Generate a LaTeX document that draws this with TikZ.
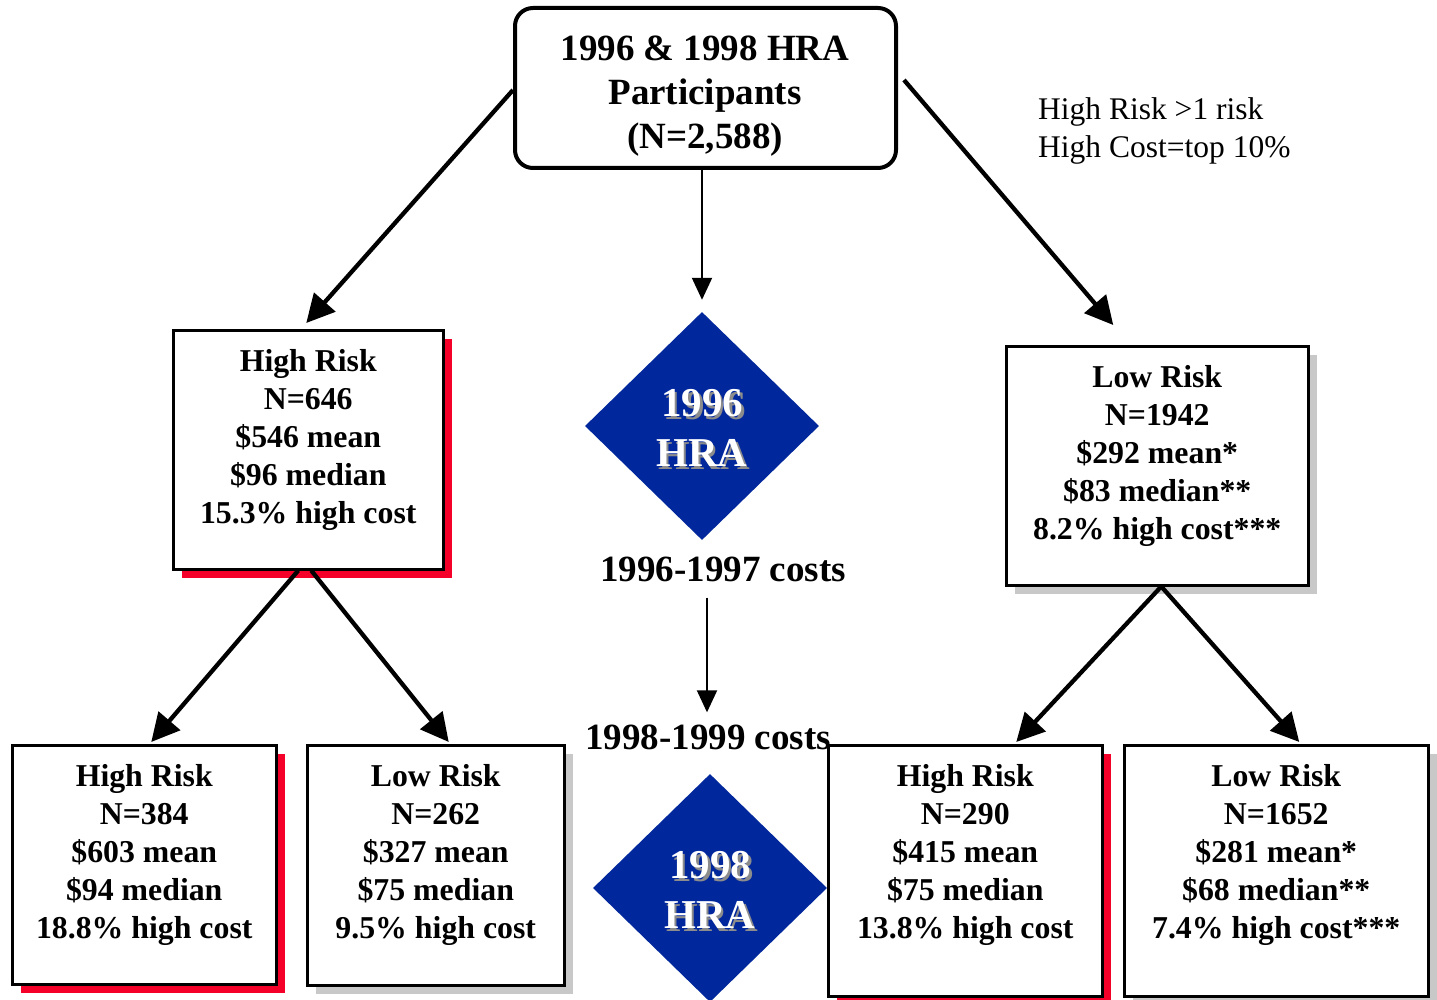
\documentclass[tikz,border=0pt]{standalone}
\usepackage{fontspec}
\setmainfont{Liberation Serif}
\usetikzlibrary{arrows.meta,shapes.geometric,shadows}
\definecolor{hrablue}{RGB}{0,39,155}
\definecolor{shred}{RGB}{245,0,40}
\definecolor{shgray}{RGB}{200,200,200}
\definecolor{txtsh}{RGB}{140,140,140}
\begin{document}
\begin{tikzpicture}[x=1pt,y=-1pt,
  box/.style={draw=black, line width=2.5pt, fill=white, inner sep=0pt, anchor=north west},
  redbox/.style={box, general shadow={fill=shred, shadow xshift=9pt, shadow yshift=-9pt}},
  graybox/.style={box, general shadow={fill=shgray, shadow xshift=9pt, shadow yshift=-9pt}},
  boxtext/.style={anchor=north, inner sep=0pt, align=center, font=\fontsize{31.8}{38}\selectfont\bfseries},
  dia/.style={diamond, fill=hrablue, inner sep=0pt, minimum width=234pt, minimum height=228pt},
  diatext/.style={align=center, inner sep=0pt, font=\fontsize{41}{50}\selectfont\bfseries, text=white},
  diashadow/.style={diatext, text=txtsh},
  costs/.style={inner sep=0pt, font=\fontsize{37}{44}\selectfont\bfseries},
  bigarrow/.style={line width=4.3pt, -{Triangle[length=28pt,width=28pt]}},
  thinarrow/.style={line width=2pt, -{Triangle[length=22pt,width=20pt]}}
]
\useasboundingbox (0,0) rectangle (1437,1000);

% top box
\node[draw=black, line width=4pt, rounded corners=18pt, minimum width=381pt, minimum height=160pt, inner sep=0pt] (tb) at (705.5,88) {};
\node[align=center, inner sep=0pt, font=\fontsize{37}{44}\selectfont\bfseries] (tbt) at (705,96) {1996 \& 1998 HRA\\Participants\\(N=2,588)};

% note
\node[anchor=north west, align=left, inner sep=0pt, font=\fontsize{31.5}{38.5}\selectfont] (note) at (1038,97) {High Risk >1 risk\\High Cost=top 10\%};

% diamonds
\node[dia] (d1) at (702,426) {};
\node[diashadow] (d1s) at (704.5,430.5) {1996\\HRA};
\node[diatext] (d1t) at (702,428) {1996\\HRA};
\node[dia] (d2) at (710,888) {};
\node[diashadow] (d2s) at (712.5,892.5) {1998\\HRA};
\node[diatext] (d2t) at (710,890) {1998\\HRA};

% level 1 boxes
\node[redbox, minimum width=270pt, minimum height=239pt] (hr) at (172,329) {};
\node[boxtext] (hrt) at ([yshift=-20]hr.north) {High Risk\\N=646\\\$546 mean\\\$96 median\\15.3\% high cost};
\node[graybox, minimum width=302pt, minimum height=239pt] (lr) at (1005,345) {};
\node[boxtext] (lrt) at ([yshift=-20]lr.north) {Low Risk\\N=1942\\\$292 mean*\\\$83 median**\\8.2\% high cost***};

% level 2 boxes
\node[redbox, minimum width=264pt, minimum height=239pt] (b1) at (11,744) {};
\node[boxtext] (b1t) at ([yshift=-20]b1.north) {High Risk\\N=384\\\$603 mean\\\$94 median\\18.8\% high cost};
\node[graybox, minimum width=257pt, minimum height=240pt] (b2) at (306,744) {};
\node[boxtext] (b2t) at ([yshift=-20]b2.north) {Low Risk\\N=262\\\$327 mean\\\$75 median\\9.5\% high cost};
\node[redbox, minimum width=274pt, minimum height=251pt] (b3) at (827,744) {};
\node[boxtext] (b3t) at ([yshift=-20]b3.north) {High Risk\\N=290\\\$415 mean\\\$75 median\\13.8\% high cost};
\node[graybox, minimum width=304pt, minimum height=251pt] (b4) at (1123,744) {};
\node[boxtext] (b4t) at ([yshift=-20]b4.north) {Low Risk\\N=1652\\\$281 mean*\\\$68 median**\\7.4\% high cost***};

% costs labels
\node[costs] (c1) at (723,569) {1996-1997 costs};
\node[costs] (c2) at (708,737) {1998-1999 costs};

% connectors
\draw[thinarrow] ([xshift=-3.5]tb.south) -- ([yshift=12]d1.north);
\draw[thinarrow] ([shift={(-16,16)}]c1.south) -- ([shift={(-1,-12)}]c2.north);
\draw[bigarrow] ([yshift=-2]tb.west) -- ([shift={(-2,-6)}]hr.north);
\draw[bigarrow] ([shift={(6,-8)}]tb.east) -- ([shift={(-44,-20)}]lr.north);
\draw[bigarrow] ([xshift=-10]hr.south) -- ([shift={(7,-2)}]b1.north);
\draw[bigarrow] ([xshift=3]hr.south) -- ([shift={(13,-2)}]b2.north);
\draw[bigarrow] ([xshift=4]lr.south) -- ([shift={(51,-2)}]b3.north);
\draw[bigarrow] ([xshift=4]lr.south) -- ([shift={(23,-2)}]b4.north);
\end{tikzpicture}
\end{document}
